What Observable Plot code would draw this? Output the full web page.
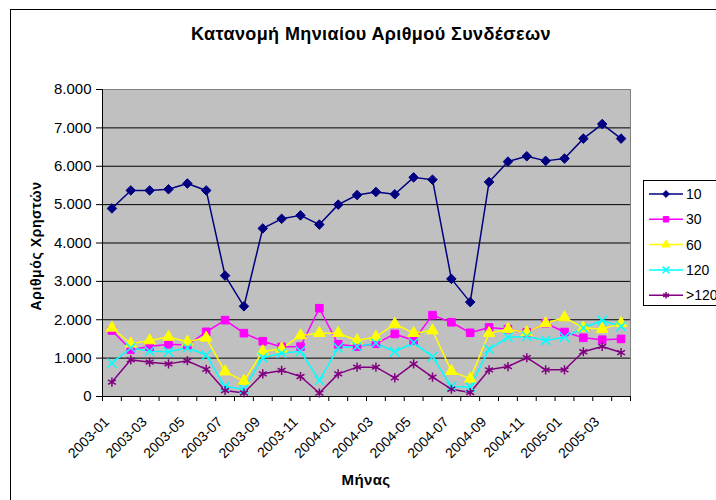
<!DOCTYPE html>
<html><head><meta charset="utf-8">
<script src="https://cdn.jsdelivr.net/npm/d3@7"></script>
<script src="https://cdn.jsdelivr.net/npm/@observablehq/plot@0.6"></script>
<style>
body{margin:0;background:#fff;font-family:"Liberation Sans",Arial,sans-serif;}
#wrap{position:relative;width:716px;height:500px;overflow:hidden;background:#fff;}
#border{position:absolute;left:10px;top:9px;width:760px;height:540px;border:1.5px solid #000;box-sizing:border-box;}
#title{position:absolute;left:11px;width:720px;top:24px;text-align:center;font-weight:bold;font-size:18px;letter-spacing:0.4px;line-height:20px;}
#ytitle{position:absolute;left:36px;top:246px;transform:translate(-50%,-50%) rotate(-90deg);white-space:nowrap;font-weight:bold;font-size:14px;letter-spacing:0.6px;}
#xtitle{position:absolute;left:366px;top:479px;transform:translate(-50%,-50%);white-space:nowrap;font-weight:bold;font-size:15px;letter-spacing:0.4px;}
#legend{position:absolute;left:643px;top:180px;width:100px;height:126px;border:1px solid #000;background:#fff;box-sizing:border-box;}
#chart{position:absolute;left:0;top:0;}
</style>
</head><body>
<div id="wrap">
  <div id="border"></div>
  <div id="chart"></div>
  <div id="title"></div>
  <div id="ytitle"></div>
  <div id="xtitle"></div>
  <div id="legend"></div>
</div>
<script>
const titleText = "Κατανομή Μηνιαίου Αριθμού Συνδέσεων";
const yTitle = "Αριθμός Χρηστών";
const xTitle = "Μήνας";

const months = ["2003-01","2003-02","2003-03","2003-04","2003-05","2003-06","2003-07","2003-08","2003-09","2003-10","2003-11","2003-12",
"2004-01","2004-02","2004-03","2004-04","2004-05","2004-06","2004-07","2004-08","2004-09","2004-10","2004-11","2004-12",
"2005-01","2005-02","2005-03","2005-04"];

const seriesNames = ["10","30","60","120",">120"];
const s10  = [4900,5370,5370,5400,5550,5370,3150,2350,4380,4630,4720,4480,5000,5250,5330,5270,5710,5650,3065,2460,5590,6120,6260,6140,6200,6720,7100,6720];
const s30  = [1720,1220,1300,1360,1340,1685,1990,1650,1440,1290,1300,2300,1360,1300,1375,1630,1460,2120,1935,1660,1800,1755,1670,1910,1680,1530,1480,1500];
const s60  = [1790,1375,1460,1550,1425,1530,650,400,1175,1245,1590,1650,1650,1460,1550,1890,1650,1720,660,460,1650,1755,1670,1910,2060,1790,1755,1910];
const s120 = [870,1270,1180,1165,1270,1080,260,190,1010,1130,1180,420,1270,1300,1390,1165,1405,1040,260,245,1235,1545,1565,1460,1545,1790,1980,1825];
const s121 = [375,955,895,850,930,710,155,90,590,680,520,90,590,765,765,485,850,505,190,105,695,780,1010,695,695,1165,1305,1145];
const seriesValues = [s10, s30, s60, s120, s121];

const colors  = ["#000080","#ff00ff","#ffff00","#00ffff","#800080"];
const symbols = ["diamond2","square","triangle","times","asterisk"];
const filled  = [true,true,true,false,false];
const yTicks = [0,1000,2000,3000,4000,5000,6000,7000,8000];

const data = seriesNames.flatMap((s,i)=>seriesValues[i].map((v,j)=>({series:s, idx:j, month:months[j], value:v})));
const fmt = v => d3.format(",")(v).replace(/,/g,".");
const idx = months.map((d,i)=>i);
const boundaries = idx.map(i=>i-0.5).concat([months.length-0.5]);
const labelIdx = idx.filter(i=>i%2===0);

const W=716,H=500,ML=102,MR=86,MT=89,MB=104;

const marks = [
  Plot.frame({fill:"#c0c0c0", stroke:"#808080"}),
  Plot.gridY({ticks: yTicks.slice(1,-1), stroke:"#000", strokeOpacity:1}),
  Plot.ruleY([0], {stroke:"#000"}),
  Plot.ruleX([boundaries[0]], {stroke:"#000"}),
  Plot.axisY({ticks:yTicks, tickSize:6, tickPadding:5, tickFormat:fmt, label:null, fontSize:15, stroke:"#000"}),
  Plot.axisX({ticks:boundaries, tickSize:5, tickFormat:()=>"", label:null}),
  Plot.axisX({ticks:labelIdx, tickSize:0, tickPadding:10, tickRotate:-45, tickFormat:i=>months[i], label:null, fontSize:14, dx:-5, dy:13})
];
seriesNames.forEach((s,i)=>{
  const d = data.filter(e=>e.series===s);
  marks.push(Plot.line(d, {x:"idx", y:"value", stroke:colors[i], strokeWidth:1.5}));
});
seriesNames.forEach((s,i)=>{
  const d = data.filter(e=>e.series===s);
  marks.push(Plot.dot(d, {x:"idx", y:"value", symbol:()=>symbols[i], r:4.3,
    fill: filled[i]?colors[i]:"none", stroke: colors[i], strokeWidth: filled[i]?1:1.5}));
});

const chart = Plot.plot({
  width:W, height:H, marginLeft:ML, marginRight:MR, marginTop:MT, marginBottom:MB,
  style:{fontFamily:"'Liberation Sans', Arial, sans-serif", background:"transparent", color:"#000"},
  x:{domain:[-0.5, months.length-0.5]},
  y:{domain:[0,8000]},
  symbol:{type:"identity"},
  marks
});
document.getElementById("chart").appendChild(chart);
document.getElementById("title").textContent = titleText;
document.getElementById("ytitle").textContent = yTitle;
document.getElementById("xtitle").textContent = xTitle;

// legend
const symMap = {diamond2:d3.symbolDiamond2, square:d3.symbolSquare, triangle:d3.symbolTriangle, times:d3.symbolTimes, asterisk:d3.symbolAsterisk};
const lg = d3.select("#legend").append("svg").attr("width",100).attr("height",126);
seriesNames.forEach((s,i)=>{
  const y = 13 + i*25.3;
  const g = lg.append("g").attr("transform",`translate(0,${y})`);
  g.append("line").attr("x1",5).attr("x2",39).attr("y1",0).attr("y2",0).attr("stroke",colors[i]).attr("stroke-width",1.5);
  g.append("path").attr("transform","translate(22,0)").attr("d", d3.symbol(symMap[symbols[i]], 30)())
    .attr("fill", filled[i]?colors[i]:"none").attr("stroke", colors[i]).attr("stroke-width", filled[i]?1:1.5);
  g.append("text").attr("x",42).attr("y",5).attr("font-size",14).attr("font-family","'Liberation Sans', Arial, sans-serif").text(s);
});
</script>
</body></html>
